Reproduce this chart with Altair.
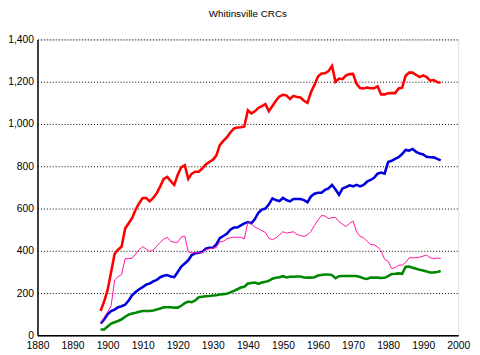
import altair as alt
import pandas as pd

years = list(range(1898, 1996))

red = [115, 160,
       215, 300, 386, 405, 420, 505, 530, 555, 595, 625,
       650, 650, 634, 650, 672, 705, 740, 750, 730, 712,
       760, 795, 805, 740, 765, 774, 774, 790, 808, 820,
       830, 850, 900, 920, 936, 960, 978, 983, 985, 988,
       1065, 1050, 1060, 1076, 1085, 1094, 1060, 1085, 1110, 1130,
       1138, 1135, 1118, 1133, 1128, 1125, 1110, 1100, 1150, 1185,
       1225, 1239, 1240, 1250, 1275, 1200, 1215, 1212, 1230, 1236,
       1237, 1190, 1170, 1168, 1172, 1169, 1169, 1178, 1140, 1140,
       1145, 1146, 1146, 1168, 1172, 1228, 1243, 1243, 1232, 1222,
       1230, 1222, 1205, 1208, 1198, 1195]

blue = [56, 75,
        100, 115, 122, 133, 138, 145, 165, 190, 205, 218,
        228, 240, 245, 255, 262, 275, 282, 285, 278, 275,
        300, 325, 340, 355, 380, 388, 391, 395, 410, 414,
        414, 430, 460, 470, 480, 500, 510, 510, 520, 530,
        536, 530, 550, 580, 595, 600, 620, 648, 640, 635,
        650, 640, 634, 645, 645, 645, 640, 630, 657, 670,
        675, 675, 688, 695, 712, 690, 665, 695, 701, 710,
        705, 712, 705, 712, 727, 735, 745, 765, 770, 765,
        820, 826, 835, 843, 858, 877, 874, 882, 868, 860,
        856, 845, 843, 842, 835, 828]

pink = [60, 85,
        110, 140, 262, 278, 288, 363, 363, 365, 385, 405,
        420, 408, 397, 403, 422, 440, 455, 464, 445, 440,
        440, 465, 470, 395, 390, 391, 391, 391, 405, 410,
        412, 415, 443, 445, 456, 462, 464, 464, 464, 456,
        536, 525, 512, 505, 495, 487, 459, 453, 460, 475,
        490, 484, 487, 490, 478, 472, 468, 475, 492, 520,
        545, 567, 565, 552, 557, 558, 538, 525, 515, 530,
        541, 490, 468, 462, 445, 430, 428, 418, 400, 360,
        350, 316, 320, 332, 332, 345, 367, 367, 367, 370,
        375, 380, 367, 363, 366, 363]

green = [28, 28,
         42, 56, 62, 68, 76, 88, 98, 103, 107, 112,
         115, 115, 115, 118, 122, 127, 133, 133, 133, 131,
         131, 140, 152, 160, 157, 165, 180, 183, 185, 186,
         188, 190, 193, 195, 197, 203, 210, 218, 226, 230,
         245, 248, 250, 244, 250, 253, 258, 268, 272, 275,
         280, 274, 277, 277, 278, 278, 274, 273, 273, 275,
         283, 286, 288, 288, 285, 270, 280, 281, 281, 281,
         281, 281, 276, 270, 267, 273, 274, 273, 271, 272,
         280, 290, 291, 293, 291, 325, 326, 320, 315, 310,
         307, 302, 297, 298, 300, 304]

x_ticks = list(range(1880, 2001, 10))
y_ticks = list(range(0, 1401, 200))

series_names = ["green", "blue", "red", "pink"]
series_values = [green, blue, red, pink]
series_colors = ["#008800", "#0000dd", "#ff0000", "#ff10a0"]
series_widths = [2.6, 2.6, 2.6, 1.0]

font = "Liberation Sans"

x_enc = alt.X("year:Q",
              scale=alt.Scale(domain=[1880, 2000], nice=False, zero=False),
              axis=alt.Axis(values=x_ticks, format="d", title=None, grid=False,
                            ticks=False, domainColor="black", domainWidth=1.5,
                            labelFont=font, labelFontSize=10.5, labelColor="black",
                            labelPadding=5, labelFlush=False, labelOverlap=False,
                            labelSeparation=0))
y_enc = alt.Y("value:Q",
              scale=alt.Scale(domain=[0, 1400], nice=False),
              axis=alt.Axis(values=y_ticks, labelExpr="format(datum.value, ',.0f')",
                            title=None, grid=True,
                            gridColor="black", gridDash=[1, 2], gridWidth=1,
                            gridOpacity=1, ticks=False, domainColor="black",
                            domainWidth=1.5, labelFont=font, labelFontSize=10.5,
                            labelColor="black", labelPadding=4, labelOverlap=False))

layers = []
for name, vals, col, w in zip(series_names, series_values,
                              series_colors, series_widths):
    d = pd.DataFrame({"year": years, "value": vals})
    layers.append(
        alt.Chart(d).mark_line(color=col, strokeWidth=w, interpolate="linear")
        .encode(x=x_enc, y=y_enc)
    )

chart = alt.layer(*layers).properties(
    width=428,
    height=301,
    title=alt.TitleParams("Whitinsville CRCs", font=font, fontSize=10,
                          fontWeight="normal", color="black", anchor="middle",
                          offset=16),
    padding={"left": 30, "top": 29, "right": 14, "bottom": 16},
    autosize=alt.AutoSizeParams(type="none"),
).configure_view(stroke=None).configure_axis(labelOverlap=False).configure(
    background="white")

chart.save("out.html", embed_options={"renderer": "svg", "actions": False})
